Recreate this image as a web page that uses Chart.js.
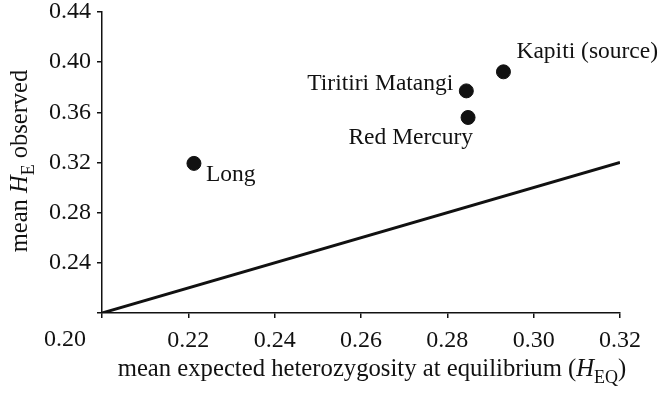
<!DOCTYPE html>
<html>
<head>
<meta charset="utf-8">
<script src="https://cdn.jsdelivr.net/npm/chart.js@4.4.1/dist/chart.umd.min.js"></script>
<style>
  html, body { margin: 0; padding: 0; background: #fff; }
  #wrap { width: 666px; height: 397px; position: relative; }
</style>
</head>
<body>
<div id="wrap"><canvas id="hetChart"></canvas></div>
<script>
// islands and values
const islands = ["Long", "Tiritiri Matangi", "Red Mercury", "Kapiti (source)"];
const hEq = [0.2213, 0.2844, 0.2848, 0.2930];
const hObs = [0.3193, 0.3771, 0.3559, 0.3923];

// equality line H_E = H_EQ
const lineX = [0.20, 0.32];
const lineY = [0.20, 0.32];

const xTicks = [0.20, 0.22, 0.24, 0.26, 0.28, 0.30, 0.32];
const yTicks = [0.20, 0.24, 0.28, 0.32, 0.36, 0.40, 0.44];

const SERIF = "'Liberation Serif', 'DejaVu Serif', serif";
const INK = "#111";

// label placement relative to each point (px)
const labelPos = [
    { dx: 12, dy: 11, align: "left" },
    { dx: -13, dy: -7, align: "right" },
    { dx: 5, dy: 20, align: "right" },
    { dx: 13, dy: -20, align: "left" },
];

// draws a run of [text, style] pieces, style: "n" normal, "i" italic, "s" subscript
function drawRich(ctx, parts, size, x, y, center) {
    const fontFor = (st) => {
        if (st === "i") return "italic " + size + "px " + SERIF;
        if (st === "s") return Math.round(size * 0.72) + "px " + SERIF;
        return size + "px " + SERIF;
    };
    let total = 0;
    parts.forEach(([t, st]) => { ctx.font = fontFor(st); total += ctx.measureText(t).width; });
    let cx = center ? x - total / 2 : x;
    parts.forEach(([t, st]) => {
        ctx.font = fontFor(st);
        ctx.fillText(t, cx, st === "s" ? y + size * 0.28 : y);
        cx += ctx.measureText(t).width;
    });
}

const extrasPlugin = {
    id: "extras",
    afterDraw(chart) {
        const ctx = chart.ctx;
        const xs = chart.scales.x;
        ctx.save();
        ctx.fillStyle = INK;
        ctx.textBaseline = "middle";

        // point labels
        const meta = chart.getDatasetMeta(1);
        meta.data.forEach((pt, i) => {
            const p = labelPos[i];
            ctx.font = "23.5px " + SERIF;
            ctx.textAlign = p.align;
            ctx.fillText(islands[i], pt.x + p.dx, pt.y + p.dy);
        });

        // first x label sits left of the axis corner
        ctx.font = "24px " + SERIF;
        ctx.textAlign = "center";
        ctx.fillText("0.20", xs.getPixelForValue(0.20) - 37, 340);

        // axis titles
        ctx.textAlign = "left";
        ctx.textBaseline = "alphabetic";
        drawRich(ctx, [["mean expected heterozygosity at equilibrium (", "n"], ["H", "i"], ["EQ", "s"], [")", "n"]],
            24.7, 372, 376, true);

        ctx.translate(27, 161);
        ctx.rotate(-Math.PI / 2);
        drawRich(ctx, [["mean ", "n"], ["H", "i"], ["E", "s"], [" observed", "n"]], 24.5, 0, 0, true);
        ctx.restore();
    }
};

new Chart(document.getElementById("hetChart"), {
    type: "scatter",
    data: {
        datasets: [
            {
                type: "line",
                data: lineX.map((x, i) => ({ x: x, y: lineY[i] })),
                borderColor: INK,
                borderWidth: 3,
                pointRadius: 0,
                fill: false,
            },
            {
                data: hEq.map((x, i) => ({ x: x, y: hObs[i] })),
                backgroundColor: INK,
                borderColor: INK,
                pointRadius: 7,
                pointHoverRadius: 7,
            },
        ],
    },
    options: {
        responsive: true,
        maintainAspectRatio: false,
        animation: false,
        events: [],
        layout: { padding: { top: 12, right: 46, bottom: 0, left: 0 } },
        plugins: { legend: { display: false }, tooltip: { enabled: false } },
        scales: {
            x: {
                type: "linear",
                min: 0.20,
                max: 0.32,
                afterBuildTicks: (s) => { s.ticks = xTicks.map((v) => ({ value: v })); },
                afterFit: (s) => { s.height = 84; s.paddingLeft = 0; s.paddingRight = 0; },
                border: { display: true, color: INK, width: 1.5 },
                grid: { drawOnChartArea: false, drawTicks: true, tickLength: 5, color: INK, lineWidth: 1.5 },
                ticks: {
                    color: INK,
                    padding: 8,
                    maxRotation: 0,
                    font: { family: SERIF, size: 24 },
                    callback: (v) => (Math.abs(v - 0.20) < 1e-9 ? "" : v.toFixed(2)),
                },
            },
            y: {
                type: "linear",
                min: 0.20,
                max: 0.44,
                afterBuildTicks: (s) => { s.ticks = yTicks.map((v) => ({ value: v })); },
                afterFit: (s) => { s.width = 102; s.paddingTop = 0; s.paddingBottom = 0; },
                border: { display: true, color: INK, width: 1.5 },
                grid: { drawOnChartArea: false, drawTicks: true, tickLength: 5, color: INK, lineWidth: 1.5 },
                ticks: {
                    color: INK,
                    padding: 6,
                    font: { family: SERIF, size: 24 },
                    callback: (v) => (Math.abs(v - 0.20) < 1e-9 ? "" : v.toFixed(2)),
                },
            },
        },
    },
    plugins: [extrasPlugin],
});
</script>
</body>
</html>
